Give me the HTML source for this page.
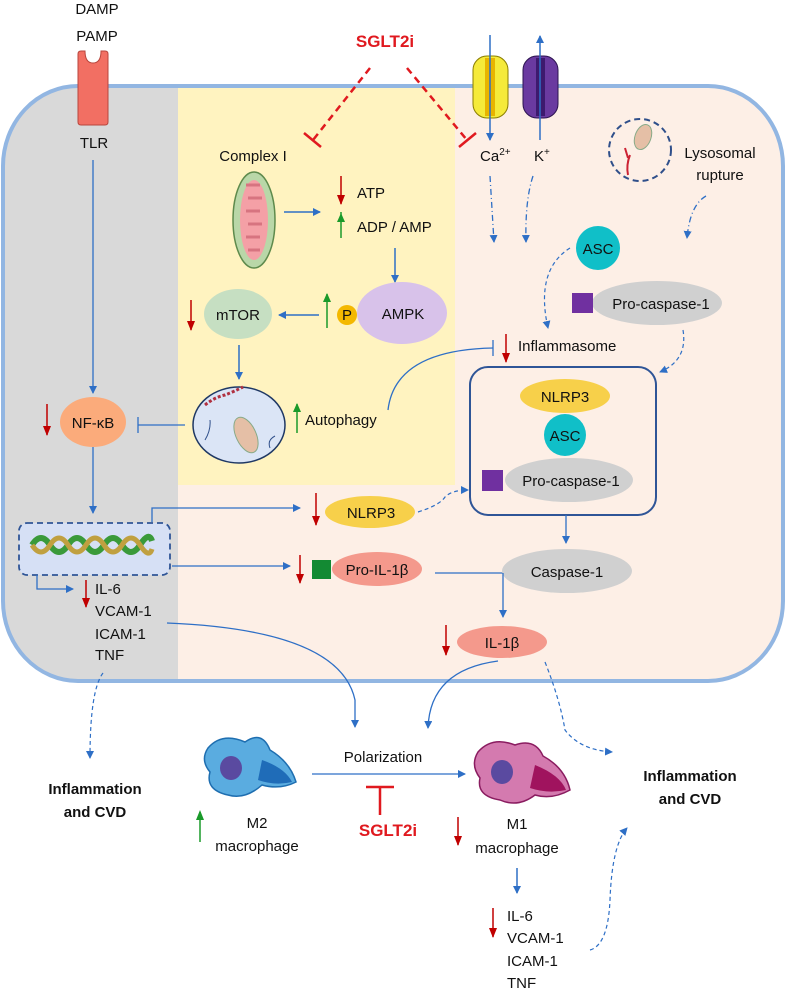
<!DOCTYPE html>
<html><head><meta charset="utf-8"><style>
html,body{margin:0;padding:0;background:#fff}
svg{display:block}
text{font-family:"Liberation Sans",sans-serif;font-size:15px;fill:#111}
.b{font-weight:bold}
.r{fill:#e0191f;font-weight:bold;font-size:17px}
</style></head><body>
<svg width="787" height="993" viewBox="0 0 787 993" xmlns="http://www.w3.org/2000/svg">
<defs>
<marker id="a" markerWidth="8" markerHeight="8" refX="7" refY="4" orient="auto" markerUnits="userSpaceOnUse"><path d="M0,0 L8,4 L0,8 z" fill="#2e6fc6"/></marker>
<marker id="rd" markerWidth="10" markerHeight="8" refX="9" refY="4" orient="auto" markerUnits="userSpaceOnUse"><path d="M0,0 L10,4 L0,8 z" fill="#c00000"/></marker>
<clipPath id="cell"><rect x="3" y="86" width="780" height="595" rx="75" ry="80"/></clipPath>
</defs>
<g clip-path="url(#cell)">
<rect x="0" y="80" width="787" height="610" fill="#fdefe6"/>
<rect x="0" y="80" width="178" height="610" fill="#d9d9d9"/>
<rect x="178" y="80" width="277" height="405" fill="#fff3c0"/>
</g>
<rect x="3" y="86" width="780" height="595" rx="75" ry="80" fill="none" stroke="#92b6e2" stroke-width="4"/>

<text x="97" y="14" text-anchor="middle">DAMP</text>
<text x="97" y="41" text-anchor="middle">PAMP</text>
<path d="M78,54 q0,-3 3,-3 h4 q0,12 8,12 q8,0 8,-12 h4 q3,0 3,3 v68 q0,3 -3,3 h-24 q-3,0 -3,-3z" fill="#f26f63" stroke="#b8463d"/>
<text x="94" y="148" text-anchor="middle">TLR</text>
<text x="385" y="47" text-anchor="middle" class="r">SGLT2i</text>
<g stroke="#e0191f" stroke-width="2.5" fill="none">
<path d="M370,68 L313,140" stroke-dasharray="7,5"/><path d="M304,133 L321,147"/>
<path d="M407,68 L467,140" stroke-dasharray="7,5"/><path d="M459,147 L476,133"/>
</g>
<rect x="473" y="56" width="35" height="62" rx="14" fill="#f5ea3a" stroke="#8a7d00"/>
<rect x="485" y="58" width="10" height="58" fill="#e8b400"/>
<rect x="523" y="56" width="35" height="62" rx="14" fill="#6a3aa0" stroke="#2c1450"/>
<rect x="536" y="58" width="9" height="58" fill="#3d1a6e"/>
<line x1="490" y1="35" x2="490" y2="140" stroke="#2e6fc6" stroke-width="1.5" marker-end="url(#a)"/>
<line x1="540" y1="140" x2="540" y2="36" stroke="#2e6fc6" stroke-width="1.5" marker-end="url(#a)"/>
<text x="480" y="161">Ca<tspan font-size="10" dy="-6">2+</tspan></text>
<text x="534" y="161">K<tspan font-size="10" dy="-6">+</tspan></text>
<circle cx="640" cy="150" r="31" fill="none" stroke="#2f4f8a" stroke-width="2" stroke-dasharray="6,4"/>
<ellipse cx="643" cy="137" rx="8" ry="13" fill="#e5bfa6" stroke="#8a8" transform="rotate(20 643 137)"/>
<path d="M630,155 q-4,10 -2,20 M625,148 l3,10" stroke="#c23" stroke-width="2" fill="none"/>
<text x="720" y="158" text-anchor="middle">Lysosomal</text>
<text x="720" y="180" text-anchor="middle">rupture</text>
<g stroke="#2e6fc6" stroke-width="1.3" fill="none" stroke-dasharray="6,3,1,3">
<path d="M490,176 L494,242" marker-end="url(#a)"/>
<path d="M533,176 Q525,200 526,242" marker-end="url(#a)"/>
<path d="M706,196 Q690,205 687,238" marker-end="url(#a)"/>
</g>
<text x="253" y="161" text-anchor="middle">Complex I</text>
<ellipse cx="254" cy="220" rx="21" ry="48" fill="#b9d7a8" stroke="#5e8a4c" stroke-width="1.5"/>
<ellipse cx="254" cy="220" rx="14" ry="40" fill="#f4a0a6"/>
<path d="M246,185 h14 M248,198 h14 M246,211 h14 M248,224 h14 M246,237 h14 M248,250 h12" stroke="#d77480" stroke-width="3"/>
<line x1="284" y1="212" x2="320" y2="212" stroke="#2e6fc6" stroke-width="1.5" marker-end="url(#a)"/>
<line x1="341" y1="176" x2="341" y2="204" stroke="#c00000" stroke-width="1.5" marker-end="url(#rd)"/>
<text x="357" y="198">ATP</text>
<line x1="341" y1="238" x2="341" y2="212" stroke="#1a9a2a" stroke-width="1.5"/><path d="M337,222 L341,213 L345,222z" fill="#1a9a2a"/>
<text x="357" y="232">ADP / AMP</text>
<line x1="395" y1="248" x2="395" y2="282" stroke="#2e6fc6" stroke-width="1.5" marker-end="url(#a)"/>
<ellipse cx="402" cy="313" rx="45" ry="31" fill="#d8c2ea"/>
<text x="403" y="319" text-anchor="middle">AMPK</text>
<circle cx="347" cy="315" r="10" fill="#f4b800"/>
<text x="347" y="320" text-anchor="middle" font-size="13">P</text>
<line x1="327" y1="328" x2="327" y2="294" stroke="#1a9a2a" stroke-width="1.5"/><path d="M323,302 L327,293 L331,302z" fill="#1a9a2a"/>
<line x1="319" y1="315" x2="279" y2="315" stroke="#2e6fc6" stroke-width="1.5" marker-end="url(#a)"/>
<ellipse cx="238" cy="314" rx="34" ry="25" fill="#c6dfc2"/>
<text x="238" y="320" text-anchor="middle">mTOR</text>
<line x1="191" y1="300" x2="191" y2="330" stroke="#c00000" stroke-width="1.5" marker-end="url(#rd)"/>
<line x1="239" y1="345" x2="239" y2="379" stroke="#2e6fc6" stroke-width="1.5" marker-end="url(#a)"/>
<ellipse cx="239" cy="425" rx="46" ry="38" fill="#dbe5f6" stroke="#1f3864" stroke-width="1.5"/>
<ellipse cx="246" cy="435" rx="10" ry="19" fill="#e5bfa6" stroke="#8a8" transform="rotate(-25 246 435)"/>
<path d="M205,405 q10,-8 20,-10 q8,-3 18,-8" stroke="#b03040" stroke-width="3" fill="none" stroke-dasharray="3,2"/>
<path d="M205,440 q6,-10 5,-20 M270,448 q-3,-8 5,-12" stroke="#2f4f8a" fill="none"/>
<line x1="297" y1="433" x2="297" y2="404" stroke="#1a9a2a" stroke-width="1.5"/><path d="M293,412 L297,403 L301,412z" fill="#1a9a2a"/>
<text x="305" y="425">Autophagy</text>
<line x1="185" y1="425" x2="138" y2="425" stroke="#2e6fc6" stroke-width="1.3"/><line x1="138" y1="417" x2="138" y2="433" stroke="#2e6fc6" stroke-width="1.3"/>
<ellipse cx="93" cy="422" rx="33" ry="25" fill="#fbab7b"/>
<text x="93" y="428" text-anchor="middle">NF-κB</text>
<line x1="47" y1="404" x2="47" y2="435" stroke="#c00000" stroke-width="1.5" marker-end="url(#rd)"/>
<line x1="93" y1="160" x2="93" y2="393" stroke="#2e6fc6" stroke-width="1.3" marker-end="url(#a)"/>
<path d="M388,410 Q395,350 493,348" stroke="#2e6fc6" stroke-width="1.3" fill="none"/><line x1="493" y1="340" x2="493" y2="356" stroke="#2e6fc6" stroke-width="1.3"/>
<line x1="506" y1="334" x2="506" y2="362" stroke="#c00000" stroke-width="1.5" marker-end="url(#rd)"/>
<text x="518" y="351">Inflammasome</text>
<circle cx="598" cy="248" r="22" fill="#10bfc8"/>
<text x="598" y="254" text-anchor="middle">ASC</text>
<ellipse cx="657" cy="303" rx="65" ry="22" fill="#d0d0d0"/>
<rect x="572" y="293" width="21" height="20" fill="#7030a0"/>
<text x="661" y="309" text-anchor="middle">Pro-caspase-1</text>
<g stroke="#2e6fc6" stroke-width="1.2" fill="none" stroke-dasharray="4,3">
<path d="M570,248 Q535,270 548,328" marker-end="url(#a)"/>
<path d="M683,330 Q688,360 660,372" marker-end="url(#a)"/>
<path d="M418,512 Q440,505 445,497 Q452,490 468,490" marker-end="url(#a)"/>
<path d="M545,662 Q560,700 565,730 Q580,750 612,752" marker-end="url(#a)"/>
<path d="M103,673 Q90,690 90,758" marker-end="url(#a)"/>
<path d="M590,950 Q608,945 610,900 Q612,845 627,828" marker-end="url(#a)"/>
</g>
<rect x="470" y="367" width="186" height="148" rx="18" fill="none" stroke="#2f5597" stroke-width="2"/>
<ellipse cx="565" cy="396" rx="45" ry="17" fill="#f7d04a"/>
<text x="565" y="402" text-anchor="middle">NLRP3</text>
<circle cx="565" cy="435" r="21" fill="#10bfc8"/>
<text x="565" y="441" text-anchor="middle">ASC</text>
<ellipse cx="569" cy="480" rx="64" ry="22" fill="#d0d0d0"/>
<rect x="482" y="470" width="21" height="21" fill="#7030a0"/>
<text x="571" y="486" text-anchor="middle">Pro-caspase-1</text>
<line x1="566" y1="515" x2="566" y2="543" stroke="#2e6fc6" stroke-width="1.3" marker-end="url(#a)"/>
<line x1="93" y1="447" x2="93" y2="513" stroke="#2e6fc6" stroke-width="1.3" marker-end="url(#a)"/>
<rect x="19" y="523" width="151" height="52" rx="8" fill="#d6e0f5" stroke="#2f5597" stroke-width="1.8" stroke-dasharray="6,4"/>
<path d="M32,545 q9,-14 18,0 t18,0 t18,0 t18,0 t18,0 t18,0 t12,-4" stroke="#3a9a3a" stroke-width="6" fill="none"/>
<path d="M32,545 q9,14 18,0 t18,0 t18,0 t18,0 t18,0 t18,0 t12,4" stroke="#c0a040" stroke-width="5" fill="none"/>
<path d="M152,522 V508 H300" stroke="#2e6fc6" stroke-width="1.3" fill="none" marker-end="url(#a)"/>
<line x1="316" y1="493" x2="316" y2="525" stroke="#c00000" stroke-width="1.5" marker-end="url(#rd)"/>
<ellipse cx="370" cy="512" rx="45" ry="16" fill="#f7d04a"/>
<text x="371" y="518" text-anchor="middle">NLRP3</text>
<line x1="172" y1="566" x2="290" y2="566" stroke="#2e6fc6" stroke-width="1.3" marker-end="url(#a)"/>
<line x1="300" y1="555" x2="300" y2="583" stroke="#c00000" stroke-width="1.5" marker-end="url(#rd)"/>
<rect x="312" y="560" width="19" height="19" fill="#138a33"/>
<ellipse cx="377" cy="569" rx="45" ry="17" fill="#f4998c"/>
<text x="377" y="575" text-anchor="middle">Pro-IL-1β</text>
<line x1="435" y1="573" x2="503" y2="573" stroke="#2e6fc6" stroke-width="1.3"/>
<ellipse cx="567" cy="571" rx="65" ry="22" fill="#d0d0d0"/>
<text x="567" y="577" text-anchor="middle">Caspase-1</text>
<line x1="503" y1="573" x2="503" y2="617" stroke="#2e6fc6" stroke-width="1.3" marker-end="url(#a)"/>
<ellipse cx="502" cy="642" rx="45" ry="16" fill="#f4998c"/>
<text x="502" y="648" text-anchor="middle">IL-1β</text>
<line x1="446" y1="625" x2="446" y2="655" stroke="#c00000" stroke-width="1.5" marker-end="url(#rd)"/>
<path d="M37,575 V589 H73" stroke="#2e6fc6" stroke-width="1.3" fill="none" marker-end="url(#a)"/>
<line x1="86" y1="580" x2="86" y2="607" stroke="#c00000" stroke-width="1.5" marker-end="url(#rd)"/>
<text x="95" y="594">IL-6</text><text x="95" y="616">VCAM-1</text><text x="95" y="639">ICAM-1</text><text x="95" y="660">TNF</text>
<path d="M167,623 Q340,630 355,700 L355,727" stroke="#2e6fc6" stroke-width="1.3" fill="none" marker-end="url(#a)"/>
<path d="M498,661 Q430,670 428,728" stroke="#2e6fc6" stroke-width="1.3" fill="none" marker-end="url(#a)"/>
<text x="95" y="794" text-anchor="middle" class="b">Inflammation</text>
<text x="95" y="817" text-anchor="middle" class="b">and CVD</text>
<text x="690" y="781" text-anchor="middle" class="b">Inflammation</text>
<text x="690" y="804" text-anchor="middle" class="b">and CVD</text>
<path d="M208,748 Q222,732 245,742 Q262,730 270,750 Q290,762 296,782 Q280,790 262,785 Q245,800 228,795 Q205,790 210,772 Q200,760 208,748z" fill="#5aace0" stroke="#1e6eb0" stroke-width="1.5"/>
<path d="M262,760 Q285,768 292,782 Q275,786 258,780z" fill="#1f6cb8"/>
<ellipse cx="231" cy="768" rx="11" ry="12" fill="#5a4aa0"/>
<text x="383" y="762" text-anchor="middle">Polarization</text>
<line x1="312" y1="774" x2="465" y2="774" stroke="#2e6fc6" stroke-width="1.3" marker-end="url(#a)"/>
<path d="M380,815 V787 M366,787 H394" stroke="#e0191f" stroke-width="2.5" fill="none"/>
<text x="388" y="836" text-anchor="middle" class="r">SGLT2i</text>
<path d="M478,752 Q492,736 515,745 Q535,738 543,756 Q565,768 570,790 Q552,800 535,795 Q518,808 500,800 Q476,796 480,778 Q470,765 478,752z" fill="#d47aaf" stroke="#8a1c60" stroke-width="1.5"/>
<path d="M535,765 Q560,775 566,790 Q548,794 530,788z" fill="#a0135e"/>
<ellipse cx="502" cy="772" rx="11" ry="12" fill="#5a4aa0"/>
<line x1="200" y1="842" x2="200" y2="812" stroke="#1a9a2a" stroke-width="1.5"/><path d="M196,820 L200,810 L204,820z" fill="#1a9a2a"/>
<text x="257" y="828" text-anchor="middle">M2</text><text x="257" y="851" text-anchor="middle">macrophage</text>
<line x1="458" y1="817" x2="458" y2="845" stroke="#c00000" stroke-width="1.5" marker-end="url(#rd)"/>
<text x="517" y="829" text-anchor="middle">M1</text><text x="517" y="853" text-anchor="middle">macrophage</text>
<line x1="517" y1="868" x2="517" y2="893" stroke="#2e6fc6" stroke-width="1.5" marker-end="url(#a)"/>
<line x1="493" y1="908" x2="493" y2="937" stroke="#c00000" stroke-width="1.5" marker-end="url(#rd)"/>
<text x="507" y="921">IL-6</text><text x="507" y="943">VCAM-1</text><text x="507" y="966">ICAM-1</text><text x="507" y="988">TNF</text>
</svg>
</body></html>
